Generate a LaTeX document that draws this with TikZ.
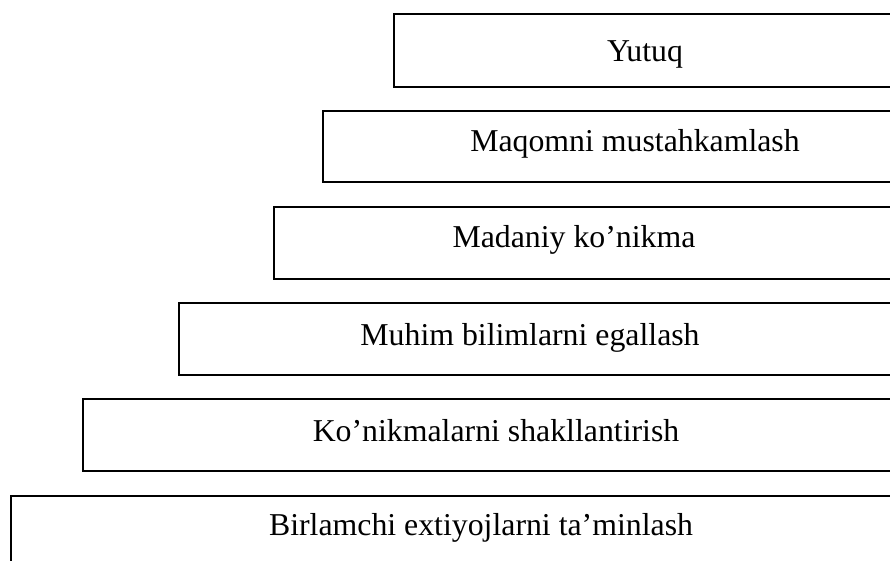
\documentclass[tikz,border=0pt]{standalone}
\usepackage{fontspec}
\setmainfont{Liberation Serif}
\begin{document}
\begin{tikzpicture}[x=1pt,y=-1pt,
  tier/.style={draw=black, line width=1.9pt, rectangle, anchor=north west,
               inner sep=0pt, minimum width=1000pt},
  lbl/.style={anchor=base, inner sep=0pt, font=\fontsize{31.8}{36}\selectfont}]
  \useasboundingbox (0,0) rectangle (890,561);
  \clip (0,0) rectangle (890,561);
  % stepped tiers, widest at the bottom
  \node[tier, minimum height=73pt] (b1) at (393,13) {};
  \node[tier, minimum height=71pt] (b2) at (322,110) {};
  \node[tier, minimum height=72pt] (b3) at (273,206) {};
  \node[tier, minimum height=72pt] (b4) at (178,302) {};
  \node[tier, minimum height=72pt] (b5) at (82,398) {};
  \node[tier, minimum height=120pt] (b6) at (10,495) {};
  % tier captions
  \node[lbl] (t1) at (645,62) {Yutuq};
  \node[lbl] (t2) at (635,152) {Maqomni mustahkamlash};
  \node[lbl] (t3) at (574,247) {Madaniy ko’nikma};
  \node[lbl] (t4) at (530,345) {Muhim bilimlarni egallash};
  \node[lbl] (t5) at (496,441) {Ko’nikmalarni shakllantirish};
  \node[lbl] (t6) at (481,535) {Birlamchi extiyojlarni ta’minlash};
\end{tikzpicture}
\end{document}
